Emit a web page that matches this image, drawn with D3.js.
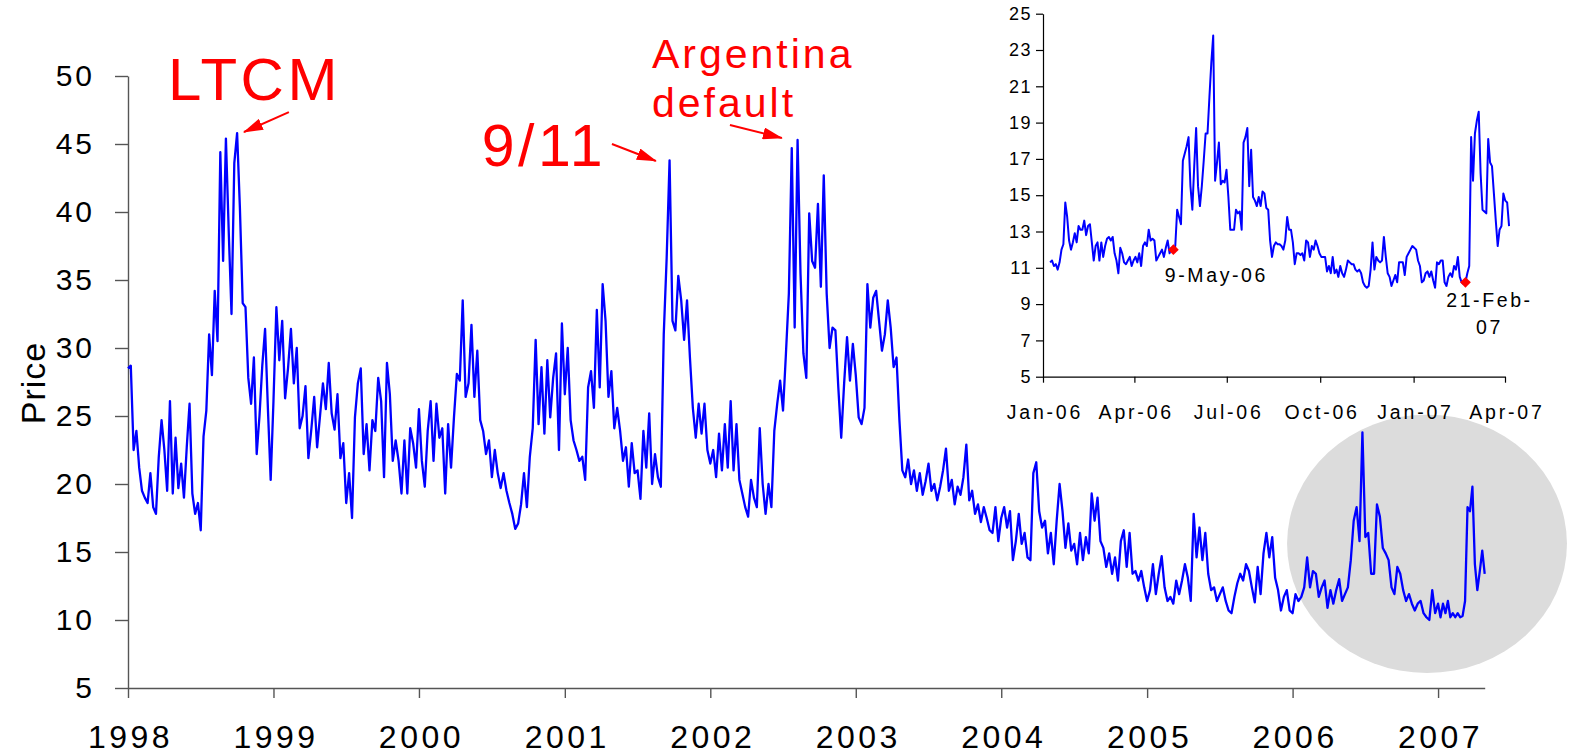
<!DOCTYPE html>
<html>
<head>
<meta charset="utf-8">
<title>Price 1998-2007</title>
<script src="https://cdn.jsdelivr.net/npm/d3@7"></script>
<style>
    body { margin: 0; background: #fff; }
    svg { font-family: "Liberation Sans", Arial, sans-serif; display: block; }
</style>
</head>
<body>
<div id="chart"></div>
<script>
// values, roughly weekly, spread evenly over each year
const fullYears = [1998, 1999, 2000, 2001, 2002, 2003, 2004, 2005, 2006];

const vix1998 = [28.5, 28.7, 22.5, 23.9, 21.2, 19.5, 19.0, 18.6, 20.8, 18.3, 17.8, 22, 24.7, 22.5, 19.5, 26.1, 19.3, 23.4, 19.7, 21.5,
    19, 22.7, 25.9, 19.3, 17.8, 18.6, 16.6, 23.5, 25.4, 31, 28, 34.2, 30.5, 44.4, 36.4, 45.4, 38.6, 32.5, 43.6, 45.8,
    40.3, 33.3, 33, 27.8, 25.9, 29.3, 22.2, 25, 28.7, 31.4, 25.6, 20.3];
const vix1999 = [26.1, 33, 29.1, 32, 26.3, 28.5, 31.4, 27.4, 30, 24.1, 25, 27.2, 21.9, 24, 26.4, 22.7, 25, 27.4, 25.5, 28.9,
    25.2, 24, 26.6, 21.9, 23, 18.6, 20.8, 17.5, 24.9, 27.4, 28.5, 22.2, 24.4, 21, 24.7, 23.9, 27.8, 26.1, 20.5, 28.9,
    26.6, 21.7, 23.2, 21.7, 19.3, 23.2, 19.3, 24.1, 23, 21.2];
const vix2000 = [25.5, 21.7, 19.8, 23.9, 26.1, 21.7, 25.9, 23.4, 24.1, 19.3, 24.4, 21.2, 24.9, 28.1, 27.6, 33.5, 26.4, 27.4, 31.7, 26.4,
    29.8, 24.7, 23.9, 22.2, 23.2, 20.5, 22.5, 20.8, 19.7, 20.8, 19.5, 18.6, 17.8, 16.7, 17.1, 18.5, 20.8, 18.3, 22, 24.1,
    30.6, 24.4, 28.6, 23.7, 29.1, 24.9, 27.8, 29.6, 22.5, 31.8];
const vix2001 = [26.6, 30, 24.7, 23.2, 22.5, 21.7, 22, 20.3, 27.1, 28.3, 25.6, 32.8, 27.1, 34.7, 32, 26.4, 28.3, 24.1, 25.6, 23.9,
    21.7, 22.7, 19.8, 23, 20.8, 21, 18.9, 23.9, 21.2, 25.2, 20, 22.2, 20.5, 19.8, 31, 36.6, 43.8, 32, 31.3, 35.3,
    33.5, 30.6, 33.5, 29.3, 25.6, 23.4, 25.9, 23.7, 25.9, 22.5];
const vix2002 = [21.5, 22.5, 20.5, 23.7, 21, 24.4, 21.2, 26.1, 21, 24.4, 20.3, 19.3, 18.3, 17.6, 20.3, 19, 18.3, 24.1, 20, 17.8,
    20, 18.3, 23.9, 25.9, 27.6, 25.4, 29.6, 34, 44.7, 31.5, 45.3, 35.5, 29.6, 27.8, 39.9, 36.4, 35.9, 40.6, 34.5, 42.7,
    34, 30, 31.5, 31.3, 27.1, 23.4, 27.4, 30.8, 27.6, 30.3];
const vix2003 = [28, 24.9, 24.4, 25.6, 34.7, 31.5, 33.7, 34.2, 32, 29.8, 31, 33.5, 31.5, 28.6, 29.3, 24.7, 21, 20.5, 21.8, 20,
    21, 19.5, 20.8, 19.2, 20.2, 21.5, 19.5, 20, 18.8, 19.8, 21, 22.6, 19.5, 20.3, 18.5, 19.8, 19.2, 20.5, 22.9, 18.8,
    19.5, 17.8, 18.5, 17.2, 18.3, 17.5, 16.6, 16.4, 18.3, 15.8];
const vix2004 = [17.5, 18.3, 16.8, 18, 14.4, 15.8, 17.8, 15.6, 16.4, 14.6, 14.4, 20.8, 21.6, 18, 16.8, 17.3, 14.9, 16.4, 14.1, 17.3,
    20, 18, 15.3, 17.1, 15.1, 15.6, 14.1, 16.4, 14.4, 16.1, 14.9, 19.3, 17.3, 19, 15.8, 15.3, 13.9, 14.9, 13.4, 14.6,
    12.9, 15.8, 16.6, 13.9, 16.4, 13.4, 13.6, 12.9, 13.6, 12.4];
const vix2005 = [11.4, 12.2, 14.1, 11.9, 13.4, 14.7, 12.4, 11.4, 11.7, 11.2, 12.9, 11.9, 12.9, 14.1, 13.1, 11.4, 17.8, 14.6, 16.8, 14.4,
    16.4, 13.4, 12.2, 12.4, 11.4, 11.9, 12.4, 11.4, 10.7, 10.5, 11.7, 12.7, 13.4, 12.9, 14.1, 13.6, 12.4, 11.3, 13.9, 11.9,
    14.9, 16.4, 14.6, 16.1, 13.1, 12.2, 10.7, 11.7, 12.2, 10.7];
const vix2006 = [10.5, 11.9, 11.4, 11.7, 12.4, 14.6, 12.4, 13.6, 13.4, 11.7, 12.4, 12.9, 10.9, 12.2, 11.2, 12.2, 13, 11.4, 11.9, 12.4,
    14.4, 17.3, 18.3, 15.8, 23.8, 16.1, 16.4, 13.4, 13.4, 18.5, 17.6, 15.3, 14.9, 14.4, 12.4, 11.9, 13.9, 13.4, 12.2, 11.4,
    11.9, 11.2, 10.7, 11.2, 11.4, 10.5, 10.2, 10, 12.2, 10.5];
// 2007 only runs to late April
const vix2007 = [11.2, 10.2, 11.2, 10.5, 11.4, 10.2, 10.5, 10.2, 10.5, 10.2, 10.3, 11.4, 18.3, 18.0, 19.8, 14.1, 12.2, 13.6, 15.1, 13.4];
const lastMainDay = "2007-04-28";

const yearTicks = ["1998", "1999", "2000", "2001", "2002", "2003", "2004", "2005", "2006", "2007"];
const priceTicks = [5, 10, 15, 20, 25, 30, 35, 40, 45, 50];

// inset: daily-ish closes, early Jan 2006 - early Apr 2007
const insetFirstDay = "2006-01-08";
const insetLastDay = "2007-04-05";
const vixDaily = [
    11.3, 11.4, 11.1, 11.2, 10.9, 11.3, 12.0, 12.3, 14.6, 13.8,
    12.5, 12.0, 12.4, 12.9, 12.4, 13.3, 13.1, 13.1, 13.6, 12.8,
    13.3, 13.4, 12.4, 11.4, 12.2, 12.4, 11.4, 12.4, 11.6, 12.2,
    12.6, 12.7, 12.5, 12.7, 11.8, 11.4, 10.7, 12.1, 11.8, 11.3,
    11.2, 11.4, 11.6, 11.1, 11.4, 11.6, 11.3, 11.8, 11.1, 12.2,
    12.4, 12.2, 13.1, 12.5, 12.6, 12.5, 11.4, 11.6, 11.8, 12.0,
    11.6, 12.1, 12.5, 11.8, 12.1, 12.0, 12.2, 14.2, 13.8, 13.4,
    16.9, 17.3, 17.7, 18.2, 15.5, 14.2, 16.6, 18.7, 15.5, 14.4,
    15.5, 16.9, 18.4, 18.4, 20.4, 22.3, 23.8, 15.8, 16.8, 17.9,
    15.6, 15.8, 15.7, 16.4, 14.9, 13.1, 13.1, 13.1, 14.2, 14.0,
    14.1, 13.1, 17.9, 18.2, 18.7, 15.5, 17.5, 14.9,
    14.7, 14.4, 14.9, 14.4, 15.2, 15.1, 14.3, 14.2, 12.5, 11.6,
    12.2, 12.4, 12.3, 12.3, 12.2, 12.0, 12.5, 13.8, 13.1, 13.1,
    12.4, 11.2, 11.8, 11.8, 11.7, 11.8, 11.4, 12.5, 12.4, 11.6,
    12.2, 12.0, 12.5, 12.2, 11.8, 11.6, 11.6, 11.6, 10.8, 11.1,
    10.7, 11.6, 10.7, 10.9, 10.5, 11.1, 10.7, 10.5, 10.9, 11.4,
    11.3, 11.2, 11.2, 10.9, 10.8, 10.9, 10.7, 10.2, 10.0, 9.9,
    10.0, 10.9, 12.4, 10.9, 11.6, 11.4, 11.3, 11.4, 12.7, 11.6,
    10.7, 10.5, 10.0, 10.3, 10.6, 10.2, 11.3, 11.3, 11.3, 10.6,
    11.6, 11.8, 12.0, 12.2, 12.1, 12.0, 11.4, 11.1, 10.2, 10.3,
    10.7, 10.8, 10.5, 10.8, 10.3, 9.9, 11.3, 11.2, 11.4, 11.4,
    10.2, 10.0, 10.5, 10.7, 10.5, 11.1, 10.9, 11.6, 10.5, 10.2,
    10.1, 10.2,
    10.7, 11.1, 18.2, 15.8, 18.4, 19.1, 19.6, 16.2, 14.2, 14.1,
    14.0, 18.1, 16.8, 16.6, 15.1, 13.6, 12.2, 13.1, 13.3, 15.1,
    14.7, 14.6, 13.3];

const insetTickDays = ["2006-01-01", "2006-04-01", "2006-07-01", "2006-10-01", "2007-01-01", "2007-04-01"];
const insetTickLabels = ["Jan-06", "Apr-06", "Jul-06", "Oct-06", "Jan-07", "Apr-07"];
const insetPriceTicks = [5, 7, 9, 11, 13, 15, 17, 19, 21, 23, 25];

const markedDays = ["2006-05-09", "2007-02-21"];
const markedLabels = [["9-May-06"], ["21-Feb-", "07"]];

const eventNames = ["LTCM", "9/11", "Argentina|default"];


const parseDay = d3.timeParse("%Y-%m-%d");

// decimal year -> Date, handy for annotations
function decYear(t) {
    let yr = Math.floor(t);
    let s = new Date(yr, 0, 1), e = new Date(yr + 1, 0, 1);
    return new Date(+s + (e - s) * (t - yr));
}

class PriceChart {
    constructor(parentElement) {
        this.parentElement = parentElement;
        this.initVis();
    }

    initVis() {
        let vis = this;

        vis.width = 1575;
        vis.height = 754;

        vis.svg = d3.select("#" + vis.parentElement).append("svg")
            .attr("width", vis.width)
            .attr("height", vis.height);

        // main chart scales
        vis.x = d3.scaleTime()
            .domain([new Date(1998, 0, 1), parseDay(lastMainDay)])
            .range([128, 1484.7]);
        vis.y = d3.scaleLinear().domain([5, 50]).range([688, 76]);

        // inset scales
        vis.xi = d3.scaleTime()
            .domain([parseDay(insetTickDays[0]), parseDay(insetTickDays[insetTickDays.length - 1])])
            .range([1043, 1505]);
        vis.yi = d3.scaleLinear().domain([5, 25]).range([376.7, 13.7]);

        vis.red = "#ff0000";
        vis.blue = "#0000ff";

        vis.wrangleData();
    }

    wrangleData() {
        let vis = this;

        let yearly = [vix1998, vix1999, vix2000, vix2001, vix2002, vix2003, vix2004, vix2005, vix2006];

        vis.mainData = [];
        fullYears.forEach((yr, k) => {
            let vals = yearly[k];
            let s = new Date(yr, 0, 1), e = new Date(yr + 1, 0, 1);
            vals.forEach((v, i) => {
                vis.mainData.push({date: new Date(+s + (e - s) * i / vals.length), value: v});
            });
        });
        let s07 = new Date(2007, 0, 1), e07 = parseDay(lastMainDay);
        vix2007.forEach((v, i) => {
            vis.mainData.push({date: new Date(+s07 + (e07 - s07) * i / (vix2007.length - 1)), value: v});
        });

        let a = parseDay(insetFirstDay), b = parseDay(insetLastDay);
        vis.insetData = vixDaily.map((v, i) => ({
            date: new Date(+a + (b - a) * i / (vixDaily.length - 1)),
            value: v
        }));

        // the two marked days sit on the nearest inset point
        let bis = d3.bisector(d => d.date).center;
        vis.marks = markedDays.map((d, i) => {
            let p = vis.insetData[bis(vis.insetData, parseDay(d))];
            return {date: p.date, value: p.value, label: markedLabels[i]};
        });

        vis.updateVis();
    }

    updateVis() {
        let vis = this;

        // grey highlight behind the 2006-07 stretch
        let hx0 = vis.x(decYear(2005.962)), hx1 = vis.x(decYear(2007.886));
        let hy0 = vis.y(25.1), hy1 = vis.y(6.1);
        vis.svg.append("ellipse")
            .attr("cx", (hx0 + hx1) / 2)
            .attr("cy", (hy0 + hy1) / 2)
            .attr("rx", (hx1 - hx0) / 2)
            .attr("ry", (hy1 - hy0) / 2)
            .attr("fill", "#dcdcdc");

        // ---- main axes
        let yAxis = d3.axisLeft(vis.y)
            .tickValues(priceTicks)
            .tickSize(13)
            .tickSizeOuter(0)
            .tickPadding(20);
        let gy = vis.svg.append("g")
            .attr("transform", "translate(128,0)")
            .call(yAxis);

        let xAxis = d3.axisBottom(vis.x)
            .tickValues(yearTicks.map(t => new Date(+t, 0, 1)))
            .tickFormat((d, i) => yearTicks[i])
            .tickSize(10)
            .tickSizeOuter(0)
            .tickPadding(27);
        let gx = vis.svg.append("g")
            .attr("transform", "translate(0,688)")
            .call(xAxis);

        [gx, gy].forEach(g => {
            g.select(".domain").attr("stroke", "#555").attr("stroke-width", 1.4);
            g.selectAll(".tick line").attr("stroke", "#555").attr("stroke-width", 1.4);
            g.selectAll(".tick text").attr("fill", "#000");
        });
        gy.selectAll(".tick text").style("font-size", "30px").style("letter-spacing", "3px");
        gx.selectAll(".tick text").style("font-size", "32px").style("letter-spacing", "3.5px").attr("dx", 2);

        vis.svg.append("text")
            .attr("transform", "translate(45,383) rotate(-90)")
            .attr("text-anchor", "middle")
            .style("font-size", "34px")
            .style("letter-spacing", "1px")
            .text("Price");

        // ---- main line
        let line = d3.line()
            .x(d => vis.x(d.date))
            .y(d => vis.y(d.value));

        vis.svg.append("path")
            .datum(vis.mainData)
            .attr("fill", "none")
            .attr("stroke", vis.blue)
            .attr("stroke-width", 2.3)
            .attr("stroke-linejoin", "round")
            .attr("d", line);

        // ---- event annotations
        vis.svg.append("defs").append("marker")
            .attr("id", "head")
            .attr("viewBox", "0 0 20 12")
            .attr("refX", 19)
            .attr("refY", 6)
            .attr("markerWidth", 20)
            .attr("markerHeight", 12)
            .attr("markerUnits", "userSpaceOnUse")
            .attr("orient", "auto")
            .append("path")
            .attr("d", "M0,0L20,6L0,12Z")
            .attr("fill", vis.red);

        let notes = [
            {text: eventNames[0], at: [1998.275, 48.24], size: 60, ls: 3.5, from: [1999.106, 47.35], to: [1998.797, 45.88]},
            {text: eventNames[1], at: [2000.43, 43.35], size: 59, ls: 3.5, from: [2001.324, 45.0], to: [2001.626, 43.75]},
            {text: eventNames[2], at: [2001.599, 50.59], size: 41, ls: 3, from: [2002.135, 46.4], to: [2002.492, 45.44]}
        ];

        notes.forEach(n => {
            let t = vis.svg.append("text")
                .attr("x", vis.x(decYear(n.at[0])))
                .attr("y", vis.y(n.at[1]))
                .attr("fill", vis.red)
                .style("font-size", n.size + "px")
                .style("letter-spacing", n.ls + "px");
            n.text.split("|").forEach((part, i) => {
                t.append("tspan")
                    .attr("x", vis.x(decYear(n.at[0])))
                    .attr("dy", i === 0 ? 0 : 49)
                    .text(part);
            });

            vis.svg.append("line")
                .attr("x1", vis.x(decYear(n.from[0])))
                .attr("y1", vis.y(n.from[1]))
                .attr("x2", vis.x(decYear(n.to[0])))
                .attr("y2", vis.y(n.to[1]))
                .attr("stroke", vis.red)
                .attr("stroke-width", 2)
                .attr("marker-end", "url(#head)");
        });

        // ---- inset
        let yAxisI = d3.axisLeft(vis.yi)
            .tickValues(insetPriceTicks)
            .tickSize(7)
            .tickSizeOuter(0)
            .tickPadding(4);
        let gyi = vis.svg.append("g")
            .attr("transform", "translate(" + vis.xi.range()[0] + ",0)")
            .call(yAxisI);

        let xAxisI = d3.axisBottom(vis.xi)
            .tickValues(insetTickDays.map(parseDay))
            .tickFormat((d, i) => insetTickLabels[i])
            .tickSize(6)
            .tickSizeOuter(0)
            .tickPadding(22);
        let gxi = vis.svg.append("g")
            .attr("transform", "translate(0," + vis.yi.range()[0] + ")")
            .call(xAxisI);

        [gxi, gyi].forEach(g => {
            g.select(".domain").attr("stroke", "#000").attr("stroke-width", 1.2);
            g.selectAll(".tick line").attr("stroke", "#000").attr("stroke-width", 1.2);
            g.selectAll(".tick text").attr("fill", "#000");
        });
        gyi.selectAll(".tick text").style("font-size", "18px").style("letter-spacing", "1.5px");
        gxi.selectAll(".tick text").style("font-size", "19.5px").style("letter-spacing", "2.8px").attr("dx", 1.4);

        let lineI = d3.line()
            .x(d => vis.xi(d.date))
            .y(d => vis.yi(d.value));

        vis.svg.append("path")
            .datum(vis.insetData)
            .attr("fill", "none")
            .attr("stroke", vis.blue)
            .attr("stroke-width", 2)
            .attr("stroke-linejoin", "round")
            .attr("d", lineI);

        let marks = vis.svg.append("g").selectAll("g.mark")
            .data(vis.marks)
            .enter().append("g")
            .attr("class", "mark")
            .attr("transform", d => "translate(" + vis.xi(d.date) + "," + vis.yi(d.value) + ")");

        marks.append("path")
            .attr("d", d3.symbol(d3.symbolSquare, 58))
            .attr("transform", "rotate(45)")
            .attr("fill", vis.red);

        marks.append("text")
            .attr("text-anchor", "middle")
            .attr("x", (d, i) => i === 0 ? 43 : 24)
            .attr("y", (d, i) => i === 0 ? 32 : 25)
            .style("font-size", "19.5px")
            .style("letter-spacing", "2.6px")
            .selectAll("tspan")
            .data(d => d.label)
            .enter().append("tspan")
            .attr("x", function() { return d3.select(this.parentNode).attr("x"); })
            .attr("dy", (d, i) => i === 0 ? 0 : 27)
            .text(d => d);
    }
}

new PriceChart("chart");
</script>
</body>
</html>
